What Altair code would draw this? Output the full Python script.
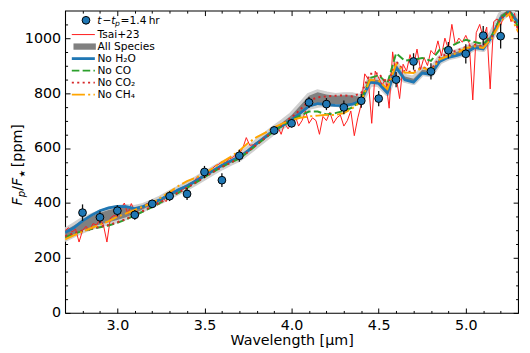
import altair as alt
import pandas as pd

FONT = "DejaVu Sans"

# ---------------- data ----------------
obs_wl = [2.8, 2.9, 3.0, 3.1, 3.2, 3.3, 3.4, 3.5, 3.6, 3.7, 3.9, 4.0, 4.1, 4.2,
          4.3, 4.4, 4.5, 4.6, 4.7, 4.8, 4.9, 5.0, 5.1, 5.2]
obs_fp = [365, 348, 372, 357, 397, 425, 433, 513, 483, 572, 664, 690, 766, 760,
          748, 772, 780, 849, 915, 879, 956, 943, 1009, 1007]
obs_err = [30, 22, 20, 18, 15, 18, 22, 22, 25, 22, 15, 15, 20, 22,
           25, 25, 28, 28, 30, 30, 30, 35, 35, 45]

model_wl = [2.70, 2.75, 2.80, 2.85, 2.90, 2.95, 3.00, 3.05, 3.10, 3.15,
            3.20, 3.25, 3.30, 3.35, 3.40, 3.45, 3.50, 3.55, 3.60, 3.65,
            3.70, 3.75, 3.80, 3.85, 3.90, 3.95, 4.00, 4.05, 4.10, 4.15,
            4.20, 4.25, 4.30, 4.35, 4.40, 4.45, 4.50, 4.55, 4.60, 4.65,
            4.70, 4.75, 4.80, 4.85, 4.90, 4.95, 5.00, 5.05, 5.10, 5.15,
            5.20, 5.25, 5.30]
no_h2o = [293, 310, 335, 355, 372, 382, 388, 387, 380, 388,
          400, 414, 430, 448, 462, 480, 500, 518, 537, 553,
          567, 590, 617, 640, 665, 683, 703, 727, 752, 762,
          758, 755, 754, 760, 772, 840, 835, 800, 893, 848,
          840, 873, 868, 915, 930, 937, 947, 965, 960, 1005,
          1072, 1098, 1055]
no_co = [275, 288, 298, 305, 312, 318, 328, 340, 355, 370,
         385, 402, 420, 437, 455, 474, 494, 513, 531, 547,
         562, 586, 612, 637, 662, 682, 702, 718, 733, 733,
         722, 727, 735, 748, 775, 855, 865, 835, 945, 918,
         922, 928, 917, 958, 965, 982, 994, 986, 978, 1010,
         1075, 1100, 1042]
no_co2 = [280, 290, 300, 307, 314, 320, 330, 342, 357, 372,
          388, 404, 422, 438, 456, 475, 494, 513, 531, 547,
          563, 587, 613, 638, 663, 688, 712, 740, 772, 785,
          788, 790, 792, 788, 800, 870, 872, 830, 915, 878,
          878, 895, 885, 930, 945, 955, 968, 975, 970, 1005,
          1070, 1098, 1035]
no_ch4 = [268, 282, 296, 309, 321, 334, 350, 362, 375, 388,
          400, 420, 440, 462, 480, 492, 508, 528, 548, 568,
          590, 618, 640, 656, 675, 690, 702, 710, 715, 718,
          721, 720, 727, 745, 770, 848, 845, 815, 905, 875,
          873, 893, 881, 923, 935, 946, 964, 970, 964, 1000,
          1060, 1089, 1024]
all_lo = [270, 285, 300, 312, 322, 330, 338, 348, 362, 378,
          393, 407, 424, 440, 456, 474, 493, 512, 530, 546,
          561, 585, 610, 635, 660, 680, 700, 725, 750, 757,
          760, 760, 758, 762, 770, 835, 833, 800, 890, 848,
          840, 873, 868, 915, 930, 937, 947, 965, 960, 1005,
          1072, 1095, 1055]
all_hi = [300, 318, 338, 352, 365, 375, 382, 386, 382, 390,
          403, 418, 436, 452, 468, 486, 505, 524, 542, 558,
          573, 597, 623, 648, 672, 695, 720, 755, 790, 803,
          795, 790, 792, 792, 785, 850, 848, 815, 905, 860,
          852, 885, 880, 927, 942, 950, 960, 977, 973, 1018,
          1085, 1105, 1068]

tsai_wl = [2.70, 2.72, 2.74, 2.76, 2.78, 2.80, 2.82, 2.84, 2.86, 2.88,
           2.90, 2.92, 2.94, 2.96, 2.98, 3.00, 3.02, 3.04, 3.06, 3.08,
           3.10, 3.12, 3.14, 3.16, 3.18, 3.20, 3.22, 3.24, 3.26, 3.28,
           3.30, 3.32, 3.34, 3.36, 3.38, 3.40, 3.42, 3.44, 3.46, 3.48,
           3.50, 3.52, 3.54, 3.56, 3.58, 3.60, 3.62, 3.64, 3.66, 3.68,
           3.70, 3.72, 3.74, 3.76, 3.78, 3.80, 3.82, 3.84, 3.86, 3.88,
           3.90, 3.92, 3.94, 3.96, 3.98, 4.00, 4.02, 4.04, 4.06, 4.08,
           4.10, 4.12, 4.14, 4.16, 4.18, 4.20, 4.22, 4.24, 4.26, 4.28,
           4.30, 4.32, 4.34, 4.36, 4.38, 4.40, 4.42, 4.44, 4.46, 4.48,
           4.50, 4.52, 4.54, 4.56, 4.58, 4.60, 4.62, 4.64, 4.66, 4.68,
           4.70, 4.72, 4.74, 4.76, 4.78, 4.80, 4.82, 4.84, 4.86, 4.88,
           4.90, 4.92, 4.94, 4.96, 4.98, 5.00, 5.02, 5.04, 5.06, 5.08,
           5.10, 5.12, 5.14, 5.16, 5.18, 5.20, 5.22, 5.24, 5.26, 5.28,
           5.30]
tsai_fp = [300, 310, 295, 305, 258, 300, 315, 300, 325, 320,
           340, 320, 258, 345, 355, 350, 380, 400, 360, 398,
           370, 385, 380, 395, 400, 392, 410, 395, 420, 405,
           435, 445, 440, 452, 450, 465, 470, 480, 495, 490,
           505, 515, 520, 535, 540, 550, 548, 560, 565, 575,
           580, 600, 638, 610, 612, 620, 625, 640, 645, 655,
           665, 680, 650, 690, 670, 690, 720, 680, 700, 735,
           690, 710, 700, 650, 715, 700, 730, 690, 710, 720,
           680, 700, 735, 645, 710, 760, 870, 850, 690, 880,
           855, 830, 850, 745, 950, 860, 780, 905, 880, 940,
           900, 960, 885, 930, 900, 955, 940, 990, 935, 1000,
           960, 1050, 975, 1000, 985, 1010, 980, 775, 1020, 1050,
           1000, 1040, 815, 1060, 1070, 1045, 1085, 1100, 1060, 1090,
           1020]

x_major = [3.0, 3.5, 4.0, 4.5, 5.0]
x_minor = [2.8, 2.9, 3.1, 3.2, 3.3, 3.4, 3.6, 3.7, 3.8, 3.9, 4.1, 4.2, 4.3, 4.4,
           4.6, 4.7, 4.8, 4.9, 5.1, 5.2]
y_major = [0, 200, 400, 600, 800, 1000]
y_minor = [50, 100, 150, 250, 300, 350, 450, 500, 550, 650, 700, 750, 850, 900,
           950, 1050]

legend_labels = ["Tsai+23", "All Species", "No H\u2082O", "No CO", "No CO\u2082", "No CH\u2084"]

# ---------------- frames ----------------
obs_df = pd.DataFrame({"wl": obs_wl, "fp": obs_fp, "err": obs_err})
obs_df["lo"] = obs_df["fp"] - obs_df["err"]
obs_df["hi"] = obs_df["fp"] + obs_df["err"]
mod_df = pd.DataFrame({"wl": model_wl, "h2o": no_h2o, "co": no_co, "co2": no_co2,
                       "ch4": no_ch4, "lo": all_lo, "hi": all_hi})
tsai_df = pd.DataFrame({"wl": tsai_wl, "fp": tsai_fp})

W, H = 460, 307
xsc = alt.Scale(domain=[2.7, 5.3], nice=False, zero=False)
ysc = alt.Scale(domain=[0, 1100], nice=False, zero=False)


def X(field="wl", axis=None):
    return alt.X(f"{field}:Q", scale=xsc, axis=axis)


def Y(field, axis=None):
    return alt.Y(f"{field}:Q", scale=ysc, axis=axis)


common = dict(domain=False, grid=False, tickColor="black", tickWidth=1,
              labelFont=FONT, labelColor="black", titleFont=FONT, titleColor="black")

ax_bottom = alt.Axis(orient="bottom", values=x_major, format=".1f", offset=-5, tickSize=5,
                     labelFontSize=14.5, labelPadding=6, labelFlush=False, labelOverlap=False,
                     title="Wavelength [\u03bcm]", titleFontSize=14.5, titleFontWeight="normal",
                     titlePadding=2, **common)
ax_bottom_minor = alt.Axis(orient="bottom", values=x_minor, offset=-2.5, tickSize=2.5,
                           labels=False, title=None, **common)
ax_top = alt.Axis(orient="top", values=x_major, offset=-5, tickSize=5, labels=False,
                  title=None, **common)
ax_top_minor = alt.Axis(orient="top", values=x_minor, offset=-2.5, tickSize=2.5,
                        labels=False, title=None, **common)
ax_left = alt.Axis(orient="left", values=y_major, format="d", offset=-5, tickSize=5,
                   labelFontSize=14.5, labelPadding=4.5, labelOverlap=False, title=None, **common)
ax_left_minor = alt.Axis(orient="left", values=y_minor, offset=-2.5, tickSize=2.5,
                         labels=False, title=None, **common)
ax_right = alt.Axis(orient="right", values=y_major, offset=-5, tickSize=5, labels=False,
                    title=None, **common)
ax_right_minor = alt.Axis(orient="right", values=y_minor, offset=-2.5, tickSize=2.5,
                          labels=False, title=None, **common)

axis_layers = []
for xa, ya in [(ax_bottom, ax_left), (ax_bottom_minor, ax_left_minor),
               (ax_top, ax_right), (ax_top_minor, ax_right_minor)]:
    axis_layers.append(
        alt.Chart(obs_df).mark_point(opacity=0).encode(x=X("wl", xa), y=Y("fp", ya))
    )

band_light = alt.Chart(mod_df).mark_area(
    color="#d0d0d0", stroke="#d0d0d0", strokeWidth=6, strokeJoin="round", clip=True
).encode(x=X(), y=Y("lo"), y2="hi")
band_dark = alt.Chart(mod_df).mark_area(color="#808080", clip=True).encode(
    x=X(), y=Y("lo"), y2="hi")
tsai = alt.Chart(tsai_df).mark_line(color="#ff1a1a", strokeWidth=1, clip=True).encode(
    x=X(), y=Y("fp"))
l_h2o = alt.Chart(mod_df).mark_line(color="#1f77b4", strokeWidth=2.8, clip=True).encode(
    x=X(), y=Y("h2o"))
l_co = alt.Chart(mod_df).mark_line(color="#2ca02c", strokeWidth=2, strokeDash=[7.7, 3.3],
                                   clip=True).encode(x=X(), y=Y("co"))
l_co2 = alt.Chart(mod_df).mark_line(color="#d62728", strokeWidth=2, strokeDash=[2.1, 3.4],
                                    clip=True).encode(x=X(), y=Y("co2"))
l_ch4 = alt.Chart(mod_df).mark_line(color="#ffa500", strokeWidth=2,
                                    strokeDash=[13.3, 3.3, 2.1, 3.3], clip=True).encode(
    x=X(), y=Y("ch4"))
errs = alt.Chart(obs_df).mark_rule(color="#111111", strokeWidth=1.3).encode(
    x=X(), y=Y("lo"), y2="hi")
pts = alt.Chart(obs_df).mark_circle(size=62, color="#1f77b4", stroke="black",
                                    strokeWidth=1, opacity=1).encode(x=X(), y=Y("fp"))

one = alt.Data(values=[{"k": 1}])


def txt(s, x, y, size=10.8, italic=False, angle=0, dx=0, dy=0, align="left",
        baseline="middle"):
    kw = dict(text=s, font=FONT, fontSize=size, color="black", align=align,
              baseline=baseline, dx=dx, dy=dy)
    if italic:
        kw["fontStyle"] = "italic"
    if angle:
        kw["angle"] = angle
    return alt.Chart(one).mark_text(**kw).encode(x=alt.value(x), y=alt.value(y))


# ---- legend ----
rows_y = [9.8, 24.3, 36.5, 48.7, 60.9, 73.1, 85.3]
hx0, hx1, tx = 6.8, 30.2, 32.8
legend = []
legend.append(alt.Chart(one).mark_circle(size=62, color="#1f77b4", stroke="black",
                                         strokeWidth=1, opacity=1)
              .encode(x=alt.value(21.2), y=alt.value(rows_y[0])))
b0 = rows_y[0] + 4
legend += [
    txt("t", 32.6, b0, italic=True, baseline="alphabetic"),
    txt("\u2212", 38.0, b0, baseline="alphabetic"),
    txt("t", 46.8, b0, italic=True, baseline="alphabetic"),
    txt("p", 50.6, b0, size=7.7, italic=True, dy=1.8, baseline="alphabetic"),
    txt("=", 56.2, b0, baseline="alphabetic"),
    txt("1.4\u2009hr", 65.5, b0, baseline="alphabetic"),
]
legend.append(alt.Chart(one).mark_rule(color="#ff1a1a", strokeWidth=1)
              .encode(x=alt.value(hx0), x2=alt.value(hx1), y=alt.value(rows_y[1])))
legend.append(alt.Chart(one).mark_rect(color="#808080")
              .encode(x=alt.value(8.5), x2=alt.value(31.2),
                      y=alt.value(rows_y[2] - 3.2), y2=alt.value(rows_y[2] + 3.2)))
legend.append(alt.Chart(one).mark_rule(color="#1f77b4", strokeWidth=2.8)
              .encode(x=alt.value(hx0), x2=alt.value(hx1), y=alt.value(rows_y[3])))
legend.append(alt.Chart(one).mark_rule(color="#2ca02c", strokeWidth=2, strokeDash=[7.7, 3.3])
              .encode(x=alt.value(hx0), x2=alt.value(hx1), y=alt.value(rows_y[4])))
legend.append(alt.Chart(one).mark_rule(color="#d62728", strokeWidth=2, strokeDash=[2.1, 3.4])
              .encode(x=alt.value(hx0), x2=alt.value(hx1), y=alt.value(rows_y[5])))
legend.append(alt.Chart(one).mark_rule(color="#ffa500", strokeWidth=2,
                                       strokeDash=[13.3, 3.3, 2.1, 3.3])
              .encode(x=alt.value(hx0), x2=alt.value(hx1), y=alt.value(rows_y[6])))
for lab, yy in zip(legend_labels, rows_y[1:]):
    legend.append(txt(lab, tx, yy))

# ---- y-axis title (rotated, mixed italic / subscripts) ----
ty_x, ty_y = -44, 198
ytitle = [
    txt("F", ty_x, ty_y, size=14.5, italic=True, angle=270, baseline="alphabetic"),
    txt("p", ty_x, ty_y, size=10.2, italic=True, angle=270, dx=8.6, dy=3,
        baseline="alphabetic"),
    txt("/", ty_x, ty_y, size=14.5, angle=270, dx=15.1, baseline="alphabetic"),
    txt("F", ty_x, ty_y, size=14.5, italic=True, angle=270, dx=20.0, baseline="alphabetic"),
    txt("\u2605", ty_x, ty_y, size=8.5, angle=270, dx=28.6, dy=3, baseline="alphabetic"),
    txt("[ppm]", ty_x, ty_y, size=14.5, angle=270, dx=39.0, baseline="alphabetic"),
]

chart = alt.layer(
    *axis_layers, band_light, band_dark, tsai, l_h2o, l_co, l_co2, l_ch4, errs, pts,
    *legend, *ytitle
).resolve_axis(x="independent", y="independent").properties(
    width=W, height=H,
    autosize=alt.AutoSizeParams(type="none"),
    padding={"left": 58, "top": 0, "right": 4, "bottom": 38},
).configure_view(stroke="black", strokeWidth=1.1)

chart.save("out.html", embed_options={"renderer": "svg", "actions": False})
